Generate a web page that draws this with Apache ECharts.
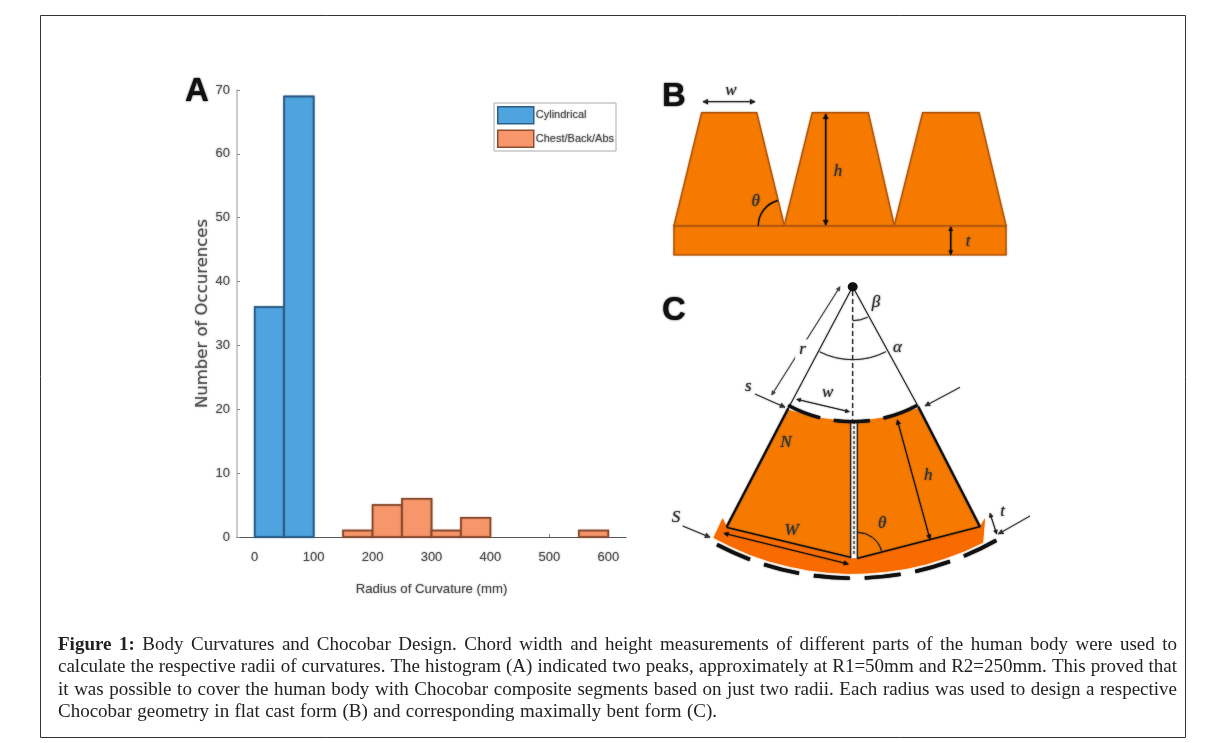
<!DOCTYPE html>
<html><head><meta charset="utf-8">
<style>html,body{margin:0;padding:0;background:#fff}#c{width:1206px;height:743px}</style>
<script src="https://cdn.jsdelivr.net/npm/echarts@6/dist/echarts.min.js"></script>
</head><body><div id="c"></div>
<script>
// ---- data ----
const binStart = [0, 50, 150, 200, 250, 300, 350, 550];
const binWidth = 50;
const cylindricalCounts = [36, 69, 0, 0, 0, 0, 0, 0];
const chestCounts = [0, 0, 1, 5, 6, 1, 3, 1];
const xTicks = [0, 100, 200, 300, 400, 500, 600];
const seriesNames = ['Cylindrical', 'Chest/Back/Abs'];
const captionLines = [
 'Figure 1: Body Curvatures and Chocobar Design. Chord width and height measurements of different parts of the human body were used to',
 'calculate the respective radii of curvatures. The histogram (A) indicated two peaks, approximately at R1=50mm and R2=250mm. This proved that',
 'it was possible to cover the human body with Chocobar composite segments based on just two radii. Each radius was used to design a respective',
 'Chocobar geometry in flat cast form (B) and corresponding maximally bent form (C).'
];

const BLUE = '#4FA3DE', BLUE_E = '#2F5F86', OR = '#F7966B', OR_E = '#8C4E30';
const FILL = '#F67A00', EDGE = '#B3590F', INK = '#222', GREY = '#555';
const AXFONT = '"Liberation Sans",sans-serif';
const soft = c => ({textShadowBlur: 2, textShadowColor: c});

function histogram(name, counts, fill, edge) {
  const data = [];
  counts.forEach((v, i) => { if (v > 0) data.push([binStart[i], binStart[i] + binWidth, v]); });
  return {
    name, type: 'custom', data, silent: true, itemStyle: {color: fill, borderColor: edge, borderWidth: 1.5},
    encode: {x: [0, 1], y: 2},
    renderItem(p, api) {
      const a = api.coord([api.value(0), 0]), b = api.coord([api.value(1), api.value(2)]);
      return {type: 'rect', shape: {x: a[0], y: b[1], width: b[0] - a[0], height: a[1] - b[1]},
        style: {fill, stroke: edge, lineWidth: 1.5, shadowBlur: 1.5, shadowColor: edge}};
    }
  };
}

const g = [];
const poly = (pts, fill, stroke, lw) => g.push({type: 'polygon', silent: true, shape: {points: pts}, style: {fill, stroke: stroke || null, lineWidth: lw || 1, shadowBlur: 1.5, shadowColor: stroke || fill}});
const line = (x1, y1, x2, y2, stroke, lw, dash) => g.push({type: 'line', silent: true, shape: {x1, y1, x2, y2}, style: {stroke, lineWidth: lw || 1, lineDash: dash || null, shadowBlur: 1.5, shadowColor: stroke}});
const arc = (cx, cy, r, a0, a1, stroke, lw, dash) => g.push({type: 'arc', silent: true, shape: {cx, cy, r, startAngle: a0 * Math.PI / 180, endAngle: a1 * Math.PI / 180, clockwise: true}, style: {stroke, fill: null, lineWidth: lw || 1, lineDash: dash || null, shadowBlur: 1.5, shadowColor: stroke}});
const txt = (x, y, s, font, fill, extra) => g.push({type: 'text', silent: true, x, y, style: Object.assign({text: s, font, fill: fill || INK, align: 'center', verticalAlign: 'middle'}, extra || {})});
function head(x, y, fx, fy, c, size) {
  const L = Math.hypot(x - fx, y - fy), ux = (x - fx) / L, uy = (y - fy) / L, s = size || 5;
  poly([[x, y], [x - ux * s - uy * s * .55, y - uy * s + ux * s * .55], [x - ux * s + uy * s * .55, y - uy * s - ux * s * .55]], c);
}
function arrow(x1, y1, x2, y2, c, lw, both, size) {
  line(x1, y1, x2, y2, c, lw);
  head(x2, y2, x1, y1, c, size);
  if (both) head(x1, y1, x2, y2, c, size);
}
const ITAL = 'italic 17px "Liberation Serif",serif';
const PANEL = 'bold 33px "Liberation Sans",Arial,sans-serif';
const ital = (x, y, s, extra) => txt(x, y, s, ITAL, '#333', Object.assign(soft('#333'), extra || {}));

// frame
g.push({type: 'rect', silent: true, shape: {x: 40.5, y: 15.5, width: 1145, height: 722}, style: {fill: null, stroke: '#333', lineWidth: 1}});

// panel letters
txt(197, 92, 'A', PANEL, '#111', soft('#111'));
txt(674, 97, 'B', PANEL, '#111', soft('#111'));
txt(674, 311, 'C', PANEL, '#111', soft('#111'));

// ---- panel B ----
poly([[674, 225.7], [1006, 225.7], [1006, 255], [674, 255]], FILL, EDGE, 1.2);
poly([[674, 225.7], [701.7, 112.7], [756.7, 112.7], [784.3, 225.7]], FILL, EDGE, 1.2);
poly([[784.3, 225.7], [812.3, 112.7], [868.3, 112.7], [894.3, 225.7]], FILL, EDGE, 1.2);
poly([[894.3, 225.7], [922.7, 112.7], [979, 112.7], [1006, 225.7]], FILL, EDGE, 1.2);
arrow(703, 101.7, 755, 101.7, INK, 1, true);
ital(731, 91, 'w');
arrow(825.7, 114, 825.7, 225, '#111', 1.3, true);
ital(838, 172, 'h');
arc(784.3, 225.7, 26, 180, 255, '#111', 1.2);
ital(755.7, 202, 'θ');
arrow(950.7, 227, 950.7, 254.5, '#111', 1.3, true, 4);
ital(968, 241.5, 't');

// ---- panel C ----
const AX = 852.7, AY = 286.7;
const onCircle = (r, d) => [AX + r * Math.sin(d * Math.PI / 180), AY + r * Math.cos(d * Math.PI / 180)];
const band = [[722.7, 518.3]];
for (let d = -29; d <= 29; d += 4) band.push(onCircle(287, d));
band.push([985, 518.3], [980, 526.7], [857.3, 558.3], [850.7, 558.3], [726.7, 527.3]);
poly(band, '#F86B00');
poly([[788.3, 410], [820, 418], [850.7, 421.7], [850.7, 557.3], [726.7, 527.3]], FILL);
poly([[855, 421.7], [888, 417], [918.3, 408.3], [980, 526.7], [857.3, 558.3]], FILL);
poly([[850.7, 421], [857.3, 421], [857.3, 558], [850.7, 558]], '#fff');
line(850.7, 421, 850.7, 558, '#222', 1);
line(857.3, 421, 857.3, 558, '#222', 1);
line(854, 421, 854, 555, '#777', 2, [3, 2]);
line(AX, AY, 788.3, 408.3, '#222', 1);
line(AX, AY, 918.3, 406.7, '#222', 1);
line(788.3, 408.3, 726.7, 526.7, '#111', 2);
line(918.3, 406.7, 980, 526.7, '#111', 2);
line(726.7, 527.3, 850.7, 557.3, '#111', 1.2);
line(857.3, 558.3, 980, 526.7, '#111', 1.2);
line(AX, 291, AX, 420, '#222', 1, [5, 3]);
g.push({type: 'ellipse', silent: true, shape: {cx: AX, cy: AY, rx: 5, ry: 4.5}, style: {fill: '#111'}});
arc(AX, AY, 135, 90 - 28.5, 90 + 28.5, '#111', 3.2, [36, 14]);
arc(AX, AY, 291.5, 90 - 29.5, 90 + 29.5, '#111', 3.6, [36, 15]);
arc(AX, AY, 73, 90 - 27, 90 + 27, '#333', 1);
arc(AX, AY, 34, 64, 90, '#333', 1);
arrow(771.7, 395, 840, 286.7, '#444', 1, true, 4);
ital(802.5, 350, 'r', {backgroundColor: '#fff', padding: [2, 4]});
ital(876, 303, 'β');
ital(897.5, 347.5, 'α');
ital(748.3, 387, 's');
arrow(755, 394, 785, 407.3, '#333', 1);
arrow(960, 387.3, 925, 406, '#333', 1);
arrow(796.7, 399.3, 849.3, 411.7, '#222', 1, true, 4);
ital(827.7, 393, 'w');
arrow(897.3, 420, 930, 539.3, '#111', 1, true, 4.5);
ital(928.3, 476, 'h');
ital(786, 443, 'N');
arrow(724, 533.3, 848.3, 564, '#111', 1, true, 4.5);
ital(791.7, 531, 'W');
arc(857.3, 557.3, 25, 270, 345, '#222', 1);
ital(882.3, 524, 'θ');
ital(676, 518, 'S');
arrow(682.7, 526, 710, 537.3, '#333', 1);
arrow(990, 513.3, 996.7, 534, '#222', 1, true, 4);
arrow(1030, 516, 998.3, 534, '#333', 1);
ital(1002.7, 511.5, 't');

// ---- caption, justified word by word ----
const CAP = '19px "Liberation Serif",serif', CAPB = 'bold 19px "Liberation Serif",serif';
const capY = [645, 667, 690, 712], capRight = [1177, 1177, 1177, 717], capLeft = 58;
const mctx = document.createElement('canvas').getContext('2d');
captionLines.forEach((ln, i) => {
  const words = ln.split(' ');
  const fonts = words.map((w, k) => (i === 0 && k < 2) ? CAPB : CAP);
  const widths = words.map((w, k) => { mctx.font = fonts[k]; return mctx.measureText(w).width; });
  const gap = (capRight[i] - capLeft - widths.reduce((a, b) => a + b, 0)) / (words.length - 1);
  let x = capLeft;
  words.forEach((w, k) => {
    txt(x, capY[i], w, fonts[k], '#222', {align: 'left'});
    x += widths[k] + gap;
  });
});

const option = {
  backgroundColor: '#fff', animation: false,
  grid: {left: 237, top: 90, width: 389, height: 447},
  legend: {
    left: 494, top: 103, orient: 'vertical', padding: [3, 2, 3, 3], itemGap: 5, itemWidth: 36, itemHeight: 17,
    borderColor: '#aaa', borderWidth: 1, backgroundColor: '#fff', selectedMode: false,
    textStyle: Object.assign({fontFamily: AXFONT, fontSize: 11, color: '#555', padding: [0, 0, 0, -3]}, soft('#777')),
    data: [
      {name: seriesNames[0], icon: 'rect', itemStyle: {color: BLUE, borderColor: BLUE_E, borderWidth: 1.5}},
      {name: seriesNames[1], icon: 'rect', itemStyle: {color: OR, borderColor: OR_E, borderWidth: 1.5}}
    ]
  },
  xAxis: {
    type: 'value', min: -30, max: 630,
    name: 'Radius of Curvature (mm)', nameLocation: 'middle', nameGap: 46,
    nameTextStyle: Object.assign({fontFamily: AXFONT, fontSize: 13.2, color: GREY}, soft('#888')),
    splitLine: {show: false},
    axisLine: {lineStyle: {color: '#555', width: 1.2}},
    axisTick: {inside: true, length: 3, customValues: xTicks, lineStyle: {color: '#888'}},
    axisLabel: Object.assign({customValues: xTicks, margin: 14, fontFamily: AXFONT, fontSize: 13, color: GREY}, soft('#888'))
  },
  yAxis: {
    type: 'value', min: 0, max: 70, interval: 10,
    name: 'Number of Occurences', nameLocation: 'middle', nameGap: 20,
    nameTextStyle: Object.assign({fontFamily: '"DejaVu Sans",sans-serif', fontSize: 16.5, color: GREY}, soft('#888')),
    splitLine: {show: false},
    axisLine: {show: true, onZero: false, lineStyle: {color: '#bbb', width: 1.5}},
    axisTick: {show: true, inside: true, length: 3, lineStyle: {color: '#888'}},
    axisLabel: Object.assign({margin: 7, fontFamily: AXFONT, fontSize: 13, color: GREY}, soft('#888'))
  },
  series: [
    histogram(seriesNames[0], cylindricalCounts, BLUE, BLUE_E),
    histogram(seriesNames[1], chestCounts, OR, OR_E)
  ],
  graphic: {elements: g}
};
echarts.init(document.getElementById('c'), null, {renderer: 'canvas'}).setOption(option);
</script></body></html>
